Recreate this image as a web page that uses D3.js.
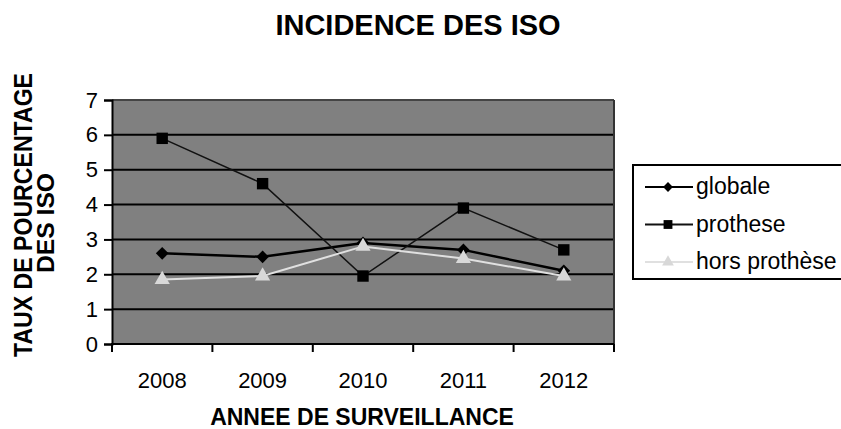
<!DOCTYPE html>
<html>
<head>
<meta charset="utf-8">
<script src="https://cdn.jsdelivr.net/npm/d3@7"></script>
<style>
  body { margin: 0; background: #fff; }
  text { font-family: "Liberation Sans", Arial, sans-serif; fill: #000; }
</style>
</head>
<body>
<svg></svg>
<script>
"use strict";

const years = ["2008", "2009", "2010", "2011", "2012"];
const globale = [2.6, 2.5, 2.9, 2.7, 2.1];
const prothese = [5.9, 4.6, 1.95, 3.9, 2.7];
const horsProthese = [1.85, 1.95, 2.8, 2.45, 1.95];
const yTicks = [0, 1, 2, 3, 4, 5, 6, 7];
const seriesNames = ["globale", "prothese", "hors prothèse"];

const width = 841;
const height = 429;
const plot = { left: 112, right: 614, top: 100, bottom: 344 };

const svg = d3.select("svg").attr("width", width).attr("height", height);

const xScale = d3.scaleBand().domain(years).range([plot.left, plot.right]).padding(0);
const yScale = d3.scaleLinear().domain([0, 7]).range([plot.bottom, plot.top]);

// plot background
svg.append("rect")
  .attr("x", plot.left).attr("y", plot.top)
  .attr("width", plot.right - plot.left).attr("height", plot.bottom - plot.top)
  .attr("fill", "#808080");

// gridlines
svg.append("g")
  .selectAll("line")
  .data(yTicks.filter((d) => d > 0))
  .enter()
  .append("line")
  .attr("x1", plot.left).attr("x2", plot.right)
  .attr("y1", (d) => yScale(d)).attr("y2", (d) => yScale(d))
  .attr("stroke", (d) => (d === 7 ? "#444" : "#000"))
  .attr("stroke-width", 2);

svg.append("line")
  .attr("x1", plot.right).attr("x2", plot.right)
  .attr("y1", plot.top).attr("y2", plot.bottom)
  .attr("stroke", "#333").attr("stroke-width", 2);

// axes
const yAxis = d3.axisLeft(yScale).tickValues(yTicks).tickFormat(d3.format("d")).tickSize(8).tickPadding(6);
const gy = svg.append("g").attr("transform", `translate(${plot.left},0)`).call(yAxis);
gy.select(".domain").attr("stroke", "#000").attr("stroke-width", 2);
gy.selectAll(".tick line").attr("stroke", "#000").attr("stroke-width", 2);
gy.selectAll(".tick text").style("font-size", "22px").attr("fill", "#000");

const xAxis = d3.axisBottom(xScale).tickSize(0).tickPadding(28);
const gx = svg.append("g").attr("transform", `translate(0,${plot.bottom})`).call(xAxis);
gx.select(".domain").remove();
gx.selectAll(".tick text").style("font-size", "22px").attr("fill", "#000");

svg.append("line")
  .attr("x1", plot.left - 1).attr("x2", plot.right)
  .attr("y1", plot.bottom).attr("y2", plot.bottom)
  .attr("stroke", "#000").attr("stroke-width", 2);

// category separators on x axis
const bounds = years.map((y) => xScale(y)).concat([xScale(years[years.length - 1]) + xScale.bandwidth()]);
svg.append("g")
  .selectAll("line")
  .data(bounds)
  .enter()
  .append("line")
  .attr("x1", (d) => d).attr("x2", (d) => d)
  .attr("y1", plot.bottom).attr("y2", plot.bottom + 8)
  .attr("stroke", "#000").attr("stroke-width", 2);

const cx = (i) => xScale(years[i]) + xScale.bandwidth() / 2;
const line = d3.line().x((d, i) => cx(i)).y((d) => yScale(d));

const series = [
  { name: seriesNames[0], values: globale, stroke: "#000", sw: 2.5, marker: d3.symbolSquare, rot: 45, fill: "#000", size: 80 },
  { name: seriesNames[1], values: prothese, stroke: "#111", sw: 1.5, marker: d3.symbolSquare, rot: 0, fill: "#000", size: 130 },
  { name: seriesNames[2], values: horsProthese, stroke: "#e0e0e0", sw: 2, marker: d3.symbolTriangle, rot: 0, fill: "#d8d8d8", size: 100 },
];

series.forEach((s) => {
  svg.append("path")
    .datum(s.values)
    .attr("d", line)
    .attr("fill", "none")
    .attr("stroke", s.stroke)
    .attr("stroke-width", s.sw);
  svg.append("g")
    .selectAll("path")
    .data(s.values)
    .enter()
    .append("path")
    .attr("d", d3.symbol().type(s.marker).size(s.size))
    .attr("transform", (d, i) => `translate(${cx(i)},${yScale(d)}) rotate(${s.rot})`)
    .attr("fill", s.fill);
});

// titles
svg.append("text")
  .attr("x", 418).attr("y", 35)
  .attr("text-anchor", "middle")
  .style("font-size", "29px").style("font-weight", "bold")
  .text("INCIDENCE DES ISO");

svg.append("text")
  .attr("x", 362).attr("y", 425)
  .attr("text-anchor", "middle")
  .style("font-size", "23px").style("font-weight", "bold")
  .text("ANNEE DE SURVEILLANCE");

svg.append("text")
  .attr("transform", "translate(32,215) rotate(-90)")
  .attr("text-anchor", "middle")
  .attr("textLength", 284).attr("lengthAdjust", "spacingAndGlyphs")
  .style("font-size", "26px").style("font-weight", "bold")
  .text("TAUX DE POURCENTAGE");

svg.append("text")
  .attr("transform", "translate(54,223) rotate(-90)")
  .attr("text-anchor", "middle")
  .attr("textLength", 100).attr("lengthAdjust", "spacingAndGlyphs")
  .style("font-size", "23px").style("font-weight", "bold")
  .text("DES ISO");

// legend
const legend = svg.append("g");
legend.append("rect")
  .attr("x", 633).attr("y", 165)
  .attr("width", 215).attr("height", 114)
  .attr("fill", "#fff").attr("stroke", "#000").attr("stroke-width", 2);

const legendY = d3.scalePoint().domain(seriesNames).range([187, 262]);
series.forEach((s) => {
  const y = legendY(s.name);
  legend.append("line")
    .attr("x1", 645).attr("x2", 693)
    .attr("y1", y).attr("y2", y)
    .attr("stroke", s.stroke).attr("stroke-width", 2);
  legend.append("path")
    .attr("d", d3.symbol().type(s.marker).size(s.size * 0.6))
    .attr("transform", `translate(668,${y}) rotate(${s.rot})`)
    .attr("fill", s.fill);
  legend.append("text")
    .attr("x", 696).attr("y", y + 7)
    .style("font-size", "23px")
    .text(s.name);
});
</script>
</body>
</html>
